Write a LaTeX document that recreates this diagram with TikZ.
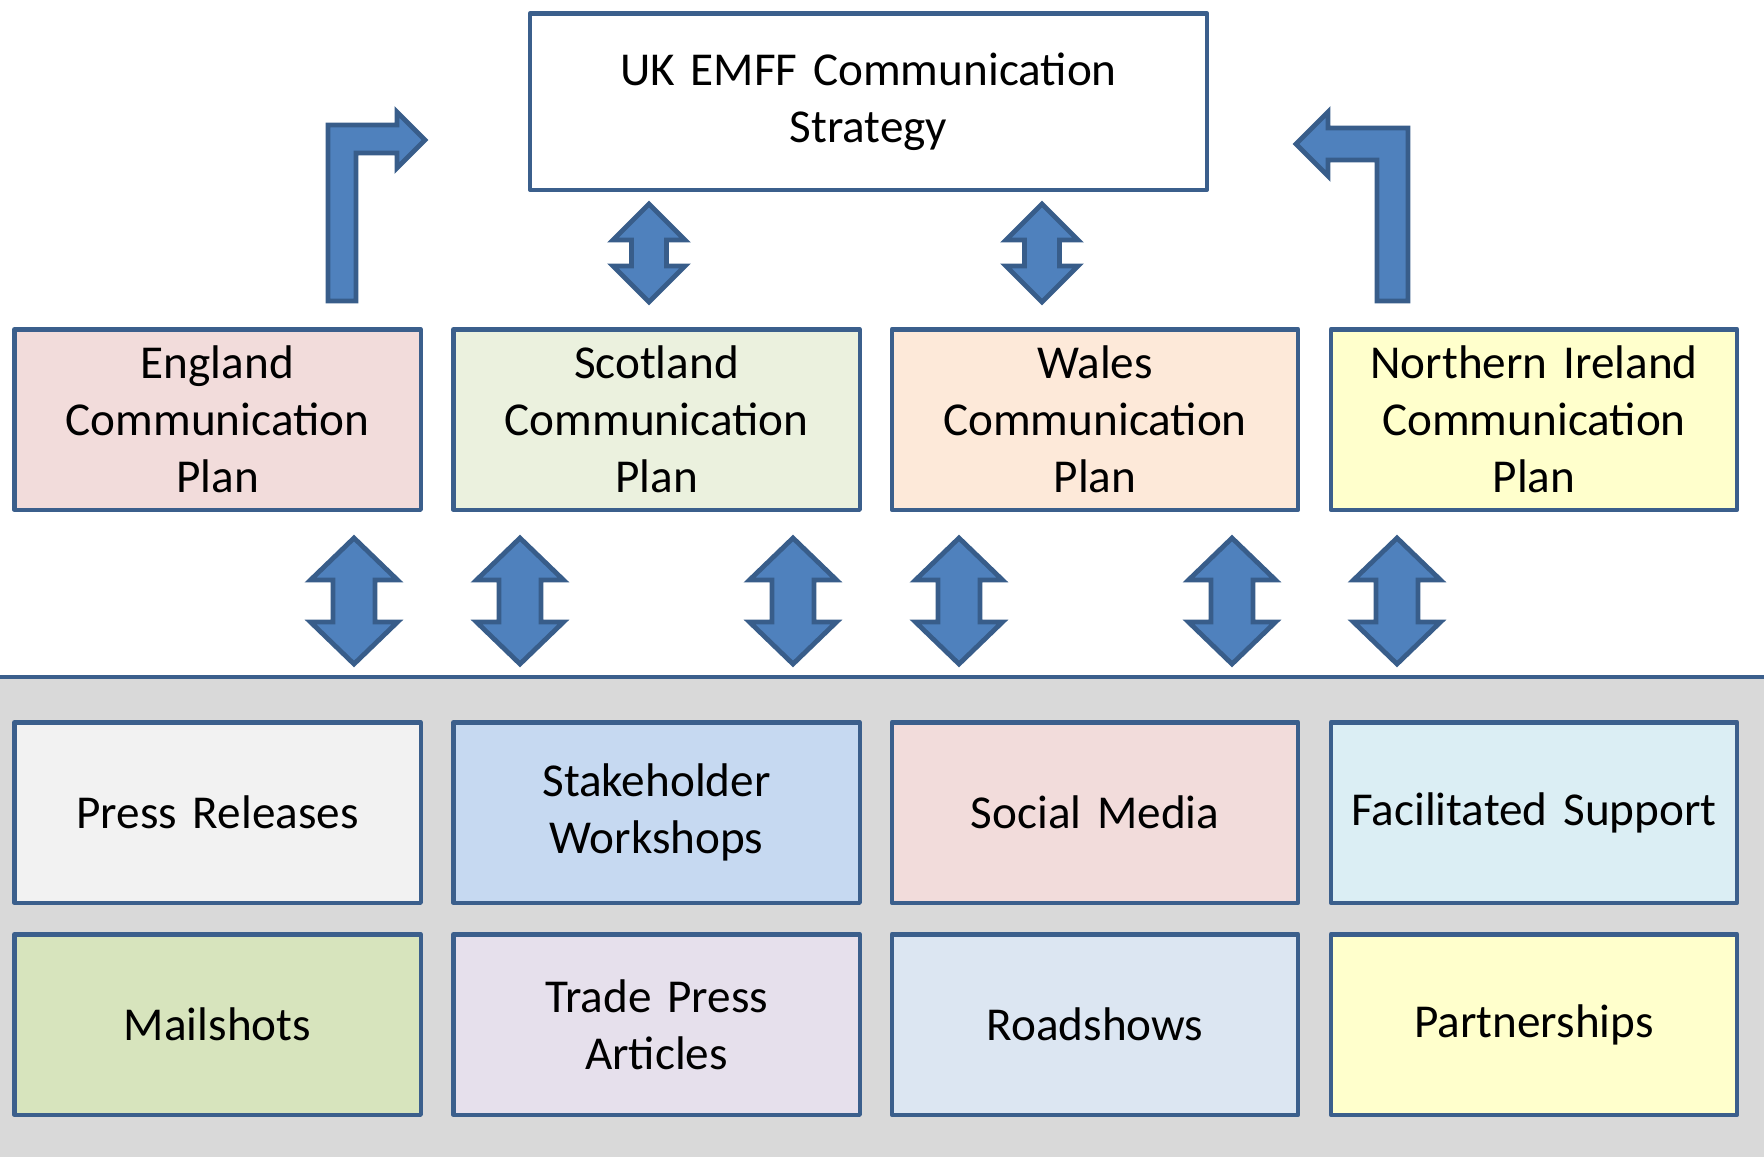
\documentclass[tikz,border=0pt]{standalone}
\usepackage{fontspec}
\setmainfont{Carlito}
\usetikzlibrary{calc}

\definecolor{edgeblue}{HTML}{3B5F8C}
\definecolor{arrowblue}{HTML}{4F81BD}
\definecolor{arrowedge}{HTML}{385D8A}
\definecolor{bandgrey}{HTML}{D9D9D9}
\definecolor{engfill}{HTML}{F2DCDB}
\definecolor{scofill}{HTML}{EBF1DE}
\definecolor{walfill}{HTML}{FDE9D9}
\definecolor{nirfill}{HTML}{FFFFCC}
\definecolor{pressfill}{HTML}{F2F2F2}
\definecolor{stakefill}{HTML}{C6D9F1}
\definecolor{socialfill}{HTML}{F2DCDB}
\definecolor{facilfill}{HTML}{DBEEF4}
\definecolor{mailfill}{HTML}{D7E4BD}
\definecolor{tradefill}{HTML}{E6E0EC}
\definecolor{roadfill}{HTML}{DCE6F2}
\definecolor{partfill}{HTML}{FFFFCC}

\tikzset{
  plan/.style={draw=edgeblue, line width=1.1pt, line join=round,
    minimum width=101.6pt, minimum height=45.1pt, text width=98pt,
    align=center, inner sep=0pt,
    font=\fontsize{11.8}{14.3}\selectfont},
  blockarrow/.style={draw=arrowedge, fill=arrowblue, line width=1.2pt, line join=miter}
}

% vertical double block arrow: x, top y, bottom y, head half width, shaft half width, head length
\newcommand{\blockupdown}[6]{%
  \draw[blockarrow] (#1,#2) -- (#1+#4,#2+#6) -- (#1+#5,#2+#6) -- (#1+#5,#3-#6)
    -- (#1+#4,#3-#6) -- (#1,#3) -- (#1-#4,#3-#6) -- (#1-#5,#3-#6)
    -- (#1-#5,#2+#6) -- (#1-#4,#2+#6) -- cycle;}

\begin{document}
\begin{tikzpicture}[x=0.25pt, y=-0.25pt]
\useasboundingbox (0,0) rectangle (1764,1157);

% grey band
\fill[bandgrey] (0,677) rectangle (1764,1157);
\draw[edgeblue, line width=1.2pt] (0,677) -- (1764,677);

% strategy
\node[plan, fill=white, minimum width=169.2pt, minimum height=44.1pt, text width=165pt]
  (uk) at (868.5,101.5) {UK EMFF Communication\\Strategy};

% plans
\node[plan, fill=engfill] (eng) at (217.5,419.5) {England\\Communication\\Plan};
\node[plan, fill=scofill] (sco) at (656.5,419.5) {Scotland\\Communication\\Plan};
\node[plan, fill=walfill] (wal) at (1095,419.5) {Wales\\Communication\\Plan};
\node[plan, fill=nirfill] (nir) at (1534,419.5) {Northern Ireland\\Communication\\Plan};

% tools
\node[plan, fill=pressfill] (press) at (217.5,812.5) {Press Releases};
\node[plan, fill=stakefill] (stake) at (656.5,812.5) {Stakeholder\\Workshops};
\node[plan, fill=socialfill] (social) at (1095,812.5) {Social Media};
\node[plan, fill=facilfill] (facil) at (1534,812.5) {Facilitated Support};
\node[plan, fill=mailfill] (mail) at (217.5,1024.5) {Mailshots};
\node[plan, fill=tradefill] (trade) at (656.5,1024.5) {Trade Press\\Articles};
\node[plan, fill=roadfill] (road) at (1095,1024.5) {Roadshows};
\node[plan, fill=partfill] (part) at (1534,1024.5) {Partnerships};

% bent arrows up to the strategy
\draw[blockarrow] (328,301) -- (328,125) -- (397,125) -- (397,112) -- (425,140)
  -- (397,168) -- (397,153) -- (356,153) -- (356,301) -- cycle;
\draw[blockarrow] (1408,301) -- (1408,128) -- (1328,128) -- (1328,112) -- (1296,144)
  -- (1328,176) -- (1328,160) -- (1377,160) -- (1377,301) -- cycle;

% double arrows
\blockupdown{649}{204}{302}{36}{17.5}{36}
\blockupdown{1042}{204}{302}{36}{17.5}{36}
\foreach \x in {354,520,793,959,1232,1397}{
  \blockupdown{\x}{538}{664}{43.5}{21}{42}
}
\end{tikzpicture}
\end{document}
